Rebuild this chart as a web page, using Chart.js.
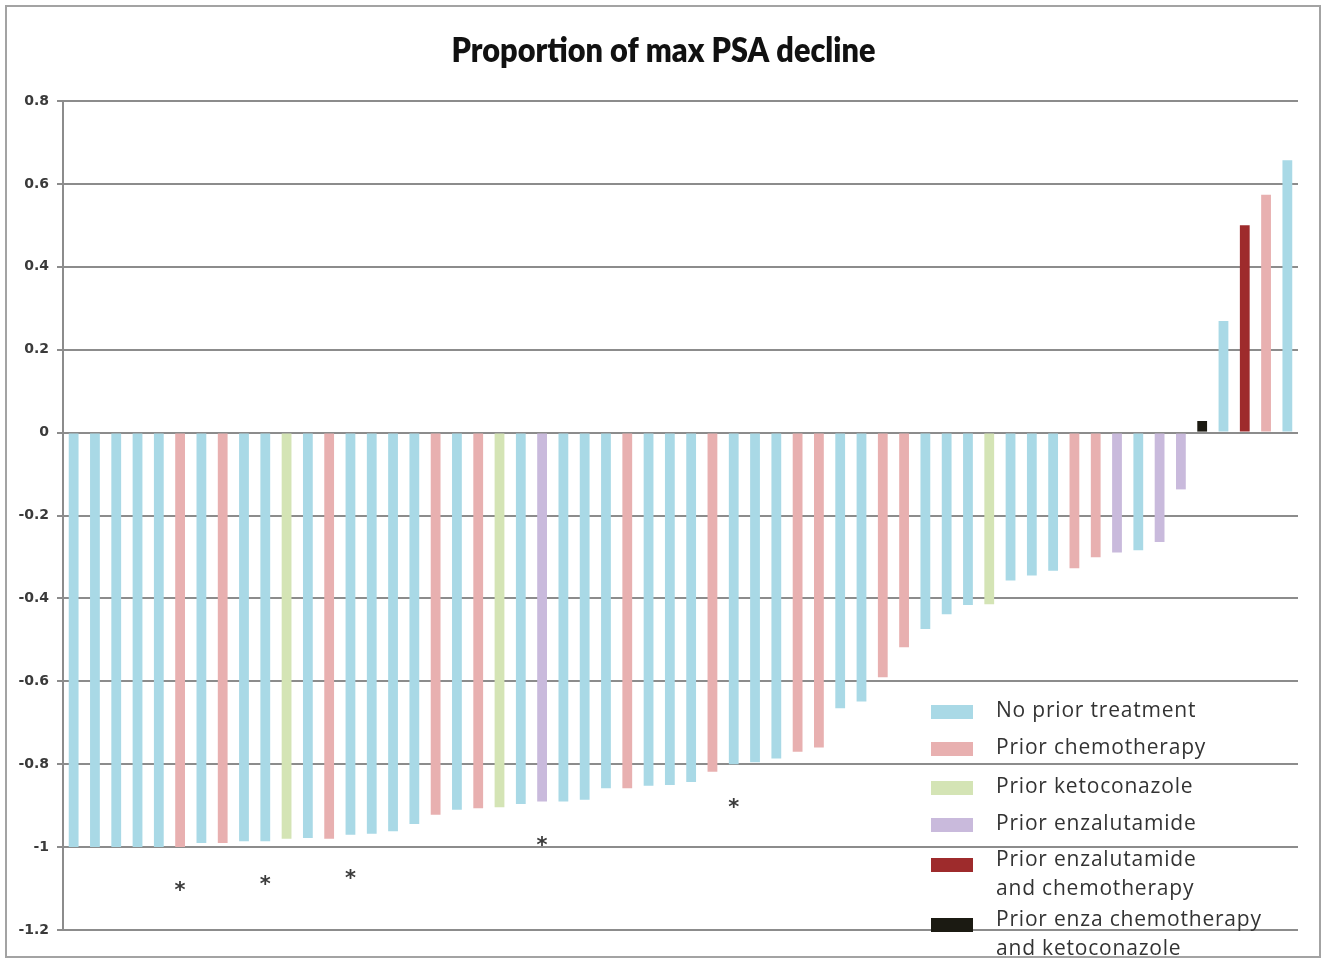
<!DOCTYPE html>
<html>
<head>
<meta charset="utf-8">
<title>Proportion of max PSA decline</title>
<script src="https://cdn.jsdelivr.net/npm/chart.js@4.4.1/dist/chart.umd.min.js"></script>
<style>
  html, body { margin: 0; padding: 0; background: #ffffff; }
  #wrap { position: relative; width: 1329px; height: 963px; }
  canvas { display: block; }
</style>
</head>
<body>
<div id="wrap"><canvas id="chart" width="1329" height="963"></canvas></div>
<script>
// Maximum PSA decline per patient (waterfall), sorted from largest decline to largest rise
const psaChange = [
  -1.0, -1.0, -1.0, -1.0, -1.0, -1.0, -0.99, -0.99, -0.986, -0.986,
  -0.98, -0.978, -0.98, -0.97, -0.968, -0.962, -0.944, -0.922, -0.91, -0.906,
  -0.904, -0.896, -0.89, -0.89, -0.886, -0.858, -0.858, -0.852, -0.85, -0.843,
  -0.818, -0.80, -0.795, -0.786, -0.77, -0.76, -0.665, -0.649, -0.59, -0.518,
  -0.474, -0.438, -0.416, -0.414, -0.357, -0.345, -0.333, -0.327, -0.301, -0.289,
  -0.284, -0.264, -0.137, 0.028, 0.269, 0.50, 0.574, 0.657
];

// Prior-treatment group of each patient (index into seriesNames)
const priorGroup = [
  0, 0, 0, 0, 0, 1, 0, 1, 0, 0,
  2, 0, 1, 0, 0, 0, 0, 1, 0, 1,
  2, 0, 3, 0, 0, 0, 1, 0, 0, 0,
  1, 0, 0, 0, 1, 1, 0, 0, 1, 1,
  0, 0, 0, 2, 0, 0, 0, 1, 1, 3,
  0, 3, 3, 5, 0, 4, 1, 0
];

const seriesNames = [
  ['No prior treatment'],
  ['Prior chemotherapy'],
  ['Prior ketoconazole'],
  ['Prior enzalutamide'],
  ['Prior enzalutamide', 'and chemotherapy'],
  ['Prior enza chemotherapy', 'and ketoconazole']
];

const seriesColors = ['#a9d9e6', '#e8b0b0', '#d4e4b5', '#c9badc', '#9e2b2c', '#1b1a12'];

// Patients flagged with an asterisk (0-based positions in the waterfall)
const flaggedPatients = [5, 9, 13, 22, 31];

const yTicks = [0.8, 0.6, 0.4, 0.2, 0, -0.2, -0.4, -0.6, -0.8, -1, -1.2];

const chartTitle = 'Proportion of max PSA decline';

const patientLabels = psaChange.map((_, i) => String(i + 1));

const datasets = seriesNames.map((name, s) => ({
  label: name.join(' '),
  data: psaChange.map((v, i) => (priorGroup[i] === s ? v : null)),
  backgroundColor: seriesColors[s],
  borderWidth: 0,
  barPercentage: 0.46,
  categoryPercentage: 1.0,
  grouped: false
}));

const GRID = '#8c8c8c';

// Frame, heading, asterisks below flagged bars, and the in-plot legend
const decorations = {
  id: 'decorations',
  beforeDraw(chart) {
    const ctx = chart.ctx;
    ctx.save();
    ctx.strokeStyle = '#a3a3a3';
    ctx.lineWidth = 2;
    ctx.strokeRect(6, 6, 1314, 951);

    // heading, set in a heavy face and fitted to its width
    ctx.font = '800 33px Lato, "Open Sans", sans-serif';
    ctx.fillStyle = '#111111';
    ctx.textAlign = 'center';
    ctx.textBaseline = 'alphabetic';
    const w = ctx.measureText(chartTitle).width;
    const sx = Math.min(1, 424 / w);
    ctx.translate(chart.width / 2 - 1, 62);
    ctx.scale(sx, 1);
    ctx.fillText(chartTitle, 0, 0);
    ctx.restore();
  },
  afterDatasetsDraw(chart) {
    const ctx = chart.ctx;
    const xs = chart.scales.x, ys = chart.scales.y;
    ctx.save();

    // asterisks
    ctx.fillStyle = '#3c3c3c';
    ctx.font = 'bold 21px "DejaVu Sans", sans-serif';
    ctx.textAlign = 'center';
    ctx.textBaseline = 'alphabetic';
    flaggedPatients.forEach(i => {
      const x = xs.getPixelForValue(i);
      const y = ys.getPixelForValue(psaChange[i]) + 39;
      const m = ctx.measureText('*');
      const off = (m.actualBoundingBoxAscent - m.actualBoundingBoxDescent) / 2;
      ctx.fillText('*', x, y + off);
    });

    // legend
    const rows = [711, 748, 787, 824, 860, 920];
    ctx.font = '21px "Open Sans", sans-serif';
    ctx.letterSpacing = '0.8px';
    ctx.textAlign = 'left';
    ctx.textBaseline = 'middle';
    seriesNames.forEach((lines, s) => {
      const y0 = rows[s];
      const sy = lines.length > 1 ? y0 + 5 : y0 + 1;
      ctx.fillStyle = seriesColors[s];
      ctx.fillRect(931, sy - 7, 42, 14);
      ctx.fillStyle = '#333333';
      lines.forEach((t, k) => ctx.fillText(t, 996, y0 + k * 29.5));
    });
    ctx.restore();
  }
};

new Chart(document.getElementById('chart'), {
  type: 'bar',
  data: { labels: patientLabels, datasets },
  plugins: [decorations],
  options: {
    responsive: false,
    animation: false,
    layout: { padding: { left: 0, right: 31, top: 101, bottom: 33 } },
    plugins: {
      legend: { display: false },
      tooltip: { enabled: false },
      title: { display: false }
    },
    scales: {
      x: { display: false },
      y: {
        min: -1.2,
        max: 0.8,
        afterBuildTicks: scale => { scale.ticks = yTicks.map(v => ({ value: v })); },
        afterFit: scale => { scale.width = 63; },
        ticks: {
          color: '#3a3a3a',
          padding: 8,
          font: { family: '"DejaVu Sans", sans-serif', size: 14, weight: 'bold' },
          callback: v => String(Number(v.toFixed(1)))
        },
        grid: { color: GRID, lineWidth: 2, tickLength: 6, tickColor: GRID },
        border: { color: GRID, width: 2 }
      }
    }
  }
});
</script>
</body>
</html>
